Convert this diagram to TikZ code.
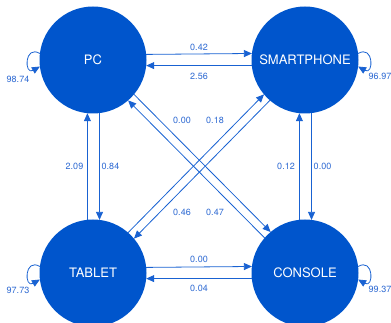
\documentclass[tikz,border=0pt]{standalone}
\usepackage{fontspec}
\setmainfont{TeX Gyre Heros}
\usetikzlibrary{arrows.meta}
\definecolor{nodeblue}{RGB}{0,85,204}
\definecolor{edgeblue}{RGB}{25,98,210}
\definecolor{labelblue}{RGB}{45,105,210}
\begin{document}
\begin{tikzpicture}[x=1pt,y=-1pt,
  state/.style={circle,fill=nodeblue,draw=none,minimum size=107pt,inner sep=0pt,outer sep=0pt,text=white,font=\fontsize{13}{15}\selectfont},
  arr/.style={draw=edgeblue,line width=0.8pt,-{Triangle[length=8pt,width=7pt]}},
  selfloop/.style={arr,looseness=3.6},
  lab/.style={text=labelblue,font=\fontsize{9}{10}\selectfont,inner sep=0pt}]
\useasboundingbox (0,0) rectangle (391,323);
\node[state] (pc) at (93,60) {PC};
\node[state] (sp) at (305,60) {SMARTPHONE};
\node[state] (tb) at (93,273) {TABLET};
\node[state] (cs) at (305,273) {CONSOLE};
% horizontal
\draw[arr] (pc.6.5) -- (sp.173.5);
\draw[arr] (sp.186.5) -- (pc.-6.5);
\draw[arr] (tb.6.5) -- (cs.173.5);
\draw[arr] (cs.186.5) -- (tb.-6.5);
% vertical
\draw[arr] (tb.96.5) -- (pc.-96.5);
\draw[arr] (pc.-83.5) -- (tb.83.5);
\draw[arr] (cs.96.5) -- (sp.-96.5);
\draw[arr] (sp.-83.5) -- (cs.83.5);
% diagonals
\draw[arr] (pc.-40.5) -- (cs.130.5);
\draw[arr] (cs.139.5) -- (pc.-49.5);
\draw[arr] (tb.49.5) -- (sp.220.5);
\draw[arr] (sp.229.5) -- (tb.40.5);
% self loops
\draw[selfloop] (pc.173) to[out=150,in=210] (pc.187);
\draw[selfloop] (tb.173) to[out=150,in=210] (tb.187);
\draw[selfloop] (sp.7) to[out=30,in=-30] (sp.-7);
\draw[selfloop] (cs.7) to[out=30,in=-30] (cs.-7);
% labels
\node[lab] (l1) at (199,47) {0.42};
\node[lab] (l2) at (199,76) {2.56};
\node[lab] (l3) at (199,259) {0.00};
\node[lab] (l4) at (199,288) {0.04};
\node[lab] (l5) at (74.5,166) {2.09};
\node[lab] (l6) at (110.5,166) {0.84};
\node[lab] (l7) at (286,166) {0.12};
\node[lab] (l8) at (322.5,166) {0.00};
\node[lab] (l9) at (182,120) {0.00};
\node[lab] (l10) at (215,120) {0.18};
\node[lab] (l11) at (182,212) {0.46};
\node[lab] (l12) at (215,212) {0.47};
\node[lab] (l13) at (18,79) {98.74};
\node[lab] (l14) at (380,76) {96.97};
\node[lab] (l15) at (18,290) {97.73};
\node[lab] (l16) at (380,289) {99.37};
\end{tikzpicture}
\end{document}
